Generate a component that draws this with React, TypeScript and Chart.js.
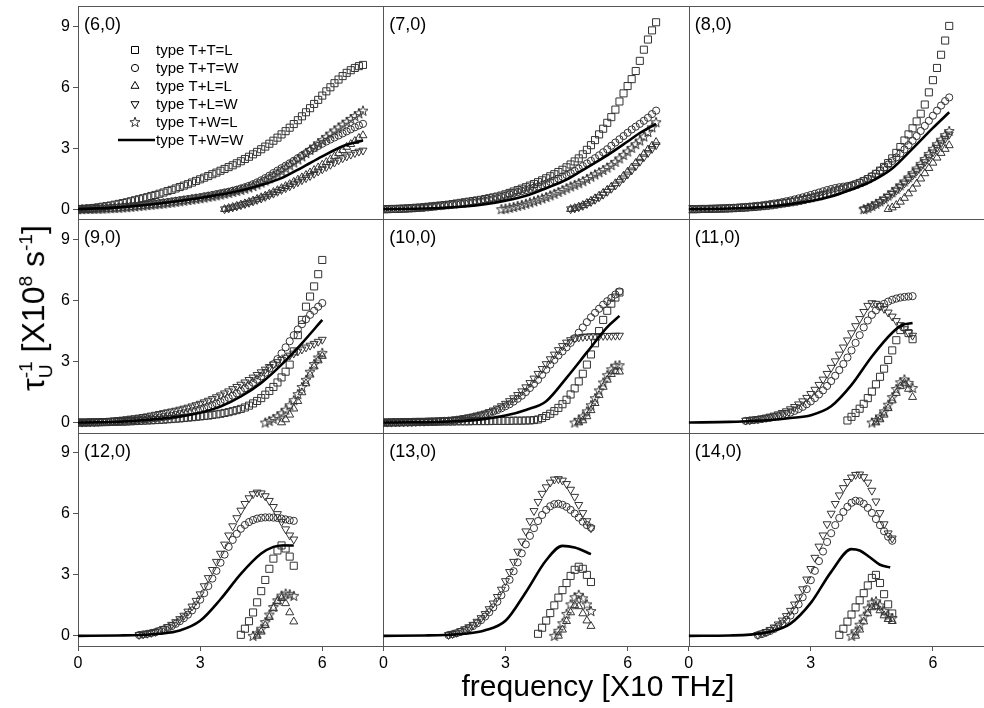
import React, { useEffect, useRef } from 'react';
import { Chart, registerables } from 'chart.js';
Chart.register(...registerables);

const FONT = '"Liberation Sans", Arial, Helvetica, sans-serif';

// frequency grid [X10 THz]
const FREQ = [0,0.1,0.2,0.3,0.4,0.5,0.6,0.7,0.8,0.9,1,1.1,1.2,1.3,1.4,1.5,1.6,1.7,1.8,1.9,2,2.1,2.2,2.3,2.4,2.5,2.6,2.7,2.8,2.9,3,3.1,3.2,3.3,3.4,3.5,3.6,3.7,3.8,3.9,4,4.1,4.2,4.3,4.4,4.5,4.6,4.7,4.8,4.9,5,5.1,5.2,5.3,5.4,5.5,5.6,5.7,5.8,5.9,6,6.1,6.2,6.3,6.4,6.5,6.6,6.7,6.8,6.9,7];
const X_TICKS = [0, 3, 6];
const Y_TICKS = [0, 3, 6, 9];
const SERIES_NAMES = ['type T+T=L', 'type T+T=W', 'type T+L=L', 'type T+L=W', 'type T+W=L', 'type T+W=W'];
const PANEL_LABELS = ['(6,0)', '(7,0)', '(8,0)', '(9,0)', '(10,0)', '(11,0)', '(12,0)', '(13,0)', '(14,0)'];

// start frequency of each marker series, order: T+T=L, T+T=W, T+L=L, T+L=W, T+W=L
// ---- (6,0)
const P6_START = [0, 0, 3.6, 3.6, 0];
const P6_TTL = [0,0.01,0.02,0.04,0.06,0.09,0.12,0.15,0.18,0.22,0.26,0.3,0.34,0.39,0.44,0.49,0.54,0.59,0.65,0.7,0.76,0.82,0.89,0.95,1.02,1.09,1.16,1.23,1.31,1.39,1.47,1.55,1.63,1.72,1.8,1.89,1.98,2.07,2.16,2.26,2.36,2.47,2.58,2.7,2.82,2.95,3.08,3.22,3.37,3.52,3.68,3.84,4.01,4.19,4.38,4.57,4.77,4.97,5.18,5.38,5.59,5.8,6.0,6.2,6.38,6.55,6.71,6.84,6.95,7.04,7.1];
const P6_TTW = [0,0,0.01,0.01,0.02,0.03,0.04,0.05,0.06,0.08,0.09,0.11,0.13,0.15,0.17,0.19,0.21,0.23,0.25,0.27,0.3,0.32,0.35,0.38,0.41,0.44,0.47,0.5,0.53,0.56,0.59,0.63,0.66,0.7,0.74,0.78,0.82,0.86,0.91,0.96,1.02,1.08,1.15,1.23,1.32,1.42,1.53,1.65,1.78,1.9,2.02,2.14,2.26,2.38,2.51,2.64,2.76,2.88,3.0,3.11,3.22,3.33,3.43,3.53,3.63,3.73,3.83,3.93,4.03,4.12,4.2];
const P6_TLL = [0,0.05,0.1,0.16,0.22,0.28,0.35,0.42,0.5,0.58,0.66,0.75,0.84,0.93,1.03,1.13,1.23,1.34,1.45,1.56,1.68,1.8,1.92,2.05,2.18,2.31,2.45,2.6,2.75,2.9,3.06,3.2,3.35,3.5,3.63];
const P6_TLW = [0,0.04,0.09,0.14,0.2,0.26,0.32,0.39,0.46,0.53,0.61,0.69,0.77,0.86,0.95,1.04,1.13,1.23,1.33,1.43,1.53,1.64,1.75,1.86,1.97,2.08,2.19,2.3,2.41,2.51,2.6,2.69,2.77,2.84,2.89];
const P6_TWL = [0,0,0.01,0.01,0.02,0.02,0.03,0.04,0.05,0.06,0.07,0.09,0.1,0.12,0.14,0.16,0.18,0.2,0.22,0.24,0.26,0.28,0.31,0.33,0.36,0.39,0.42,0.45,0.48,0.51,0.54,0.57,0.61,0.64,0.68,0.72,0.76,0.8,0.85,0.9,0.95,1.01,1.07,1.14,1.22,1.31,1.41,1.52,1.64,1.76,1.89,2.02,2.16,2.3,2.45,2.6,2.76,2.92,3.08,3.24,3.4,3.56,3.72,3.87,4.02,4.16,4.3,4.44,4.58,4.72,4.85];
const P6_LINE = [[0,0],[1,0.09],[2,0.28],[3,0.55],[3.5,0.72],[4,0.92],[4.5,1.19],[5,1.53],[5.5,2.05],[6,2.6],[6.5,3.1],[7,3.38]];
// ---- (7,0)
const P7_START = [0, 0, 4.6, 4.6, 2.9];
const P7_TTL = [0,0,0.01,0.01,0.02,0.03,0.04,0.05,0.07,0.08,0.1,0.12,0.14,0.16,0.18,0.2,0.22,0.25,0.28,0.31,0.34,0.37,0.4,0.43,0.46,0.5,0.54,0.58,0.62,0.67,0.73,0.8,0.87,0.94,1.01,1.08,1.16,1.24,1.33,1.42,1.52,1.62,1.72,1.83,1.94,2.06,2.2,2.35,2.5,2.7,2.92,3.15,3.4,3.68,3.96,4.25,4.53,4.9,5.3,5.7,6.06,6.4,6.8,7.3,7.85,8.35,8.8,9.2];
const P7_TTW = [0,0,0.01,0.01,0.02,0.02,0.03,0.04,0.05,0.06,0.07,0.09,0.11,0.13,0.15,0.17,0.19,0.21,0.23,0.26,0.28,0.3,0.33,0.35,0.38,0.41,0.45,0.49,0.54,0.6,0.66,0.73,0.79,0.84,0.89,0.94,1.0,1.06,1.12,1.19,1.26,1.34,1.42,1.5,1.59,1.68,1.78,1.88,2.0,2.12,2.25,2.38,2.51,2.65,2.8,2.95,3.12,3.28,3.44,3.6,3.76,3.92,4.06,4.2,4.35,4.5,4.68,4.85];
const P7_TLL = [0,0.05,0.12,0.2,0.3,0.41,0.53,0.66,0.8,0.95,1.1,1.27,1.45,1.64,1.84,2.05,2.27,2.5,2.72,2.93,3.12,3.3];
const P7_TLW = [0,0.04,0.1,0.17,0.26,0.36,0.47,0.59,0.72,0.86,1.01,1.17,1.34,1.52,1.71,1.91,2.12,2.34,2.56,2.77,2.97,3.15];
const P7_TWL = [0,0.03,0.07,0.11,0.16,0.21,0.27,0.33,0.39,0.46,0.53,0.6,0.68,0.76,0.85,0.94,1.03,1.12,1.2,1.28,1.38,1.49,1.6,1.71,1.82,1.93,2.05,2.17,2.33,2.5,2.67,2.84,3.02,3.2,3.38,3.58,3.8,4.03,4.28];
const P7_LINE = [[0,0],[1,0.03],[1.5,0.07],[2,0.13],[2.5,0.24],[3,0.42],[3.5,0.66],[4,1.03],[4.5,1.45],[5,2.05],[5.5,2.65],[6,3.33],[6.3,3.75],[6.7,4.2]];
// ---- (8,0)
const P8_START = [0, 0, 4.9, 4.3, 4.3];
const P8_TTL = [0,0,0,0.01,0.01,0.01,0.02,0.02,0.03,0.03,0.04,0.05,0.06,0.07,0.08,0.1,0.11,0.13,0.15,0.17,0.19,0.22,0.25,0.28,0.31,0.34,0.37,0.41,0.45,0.5,0.54,0.59,0.64,0.7,0.76,0.82,0.88,0.95,1.01,1.07,1.14,1.21,1.29,1.38,1.48,1.6,1.74,1.9,2.08,2.27,2.5,2.77,3.06,3.38,3.68,3.98,4.32,4.7,5.15,5.75,6.35,6.95,7.6,8.3,9.02];
const P8_TTW = [0,0,0,0.01,0.01,0.02,0.02,0.03,0.04,0.05,0.06,0.07,0.08,0.1,0.11,0.13,0.15,0.17,0.19,0.22,0.25,0.28,0.31,0.35,0.39,0.43,0.48,0.53,0.58,0.64,0.7,0.76,0.82,0.88,0.94,0.99,1.04,1.08,1.11,1.14,1.18,1.24,1.31,1.4,1.5,1.62,1.75,1.89,2.04,2.2,2.37,2.55,2.74,2.94,3.15,3.37,3.6,3.85,4.1,4.35,4.6,4.85,5.1,5.32,5.5];
const P8_TLL = [0,0.08,0.2,0.36,0.55,0.77,1.0,1.25,1.5,1.76,2.02,2.28,2.53,2.76,2.96,3.14];
const P8_TLW = [0,0.06,0.14,0.24,0.35,0.47,0.61,0.76,0.92,1.09,1.27,1.46,1.66,1.87,2.09,2.32,2.56,2.8,3.03,3.25,3.47,3.68];
const P8_TWL = [0,0.07,0.16,0.27,0.39,0.52,0.67,0.83,1.0,1.18,1.37,1.57,1.78,2.0,2.23,2.47,2.72,2.97,3.2,3.42,3.65,3.85];
const P8_LINE = [[0,0],[0.5,0.01],[1,0.03],[1.5,0.07],[2,0.13],[2.5,0.25],[3,0.4],[3.5,0.62],[4,0.97],[4.5,1.38],[5,2.0],[5.5,2.98],[6,4.0],[6.4,4.77]];
// ---- (9,0)
const P9_START = [0, 0, 5.0, 0, 4.6];
const P9_TTL = [0,0,0,0.01,0.01,0.01,0.02,0.02,0.03,0.03,0.04,0.04,0.05,0.06,0.07,0.08,0.09,0.1,0.11,0.12,0.13,0.14,0.16,0.17,0.19,0.2,0.22,0.24,0.26,0.28,0.3,0.32,0.34,0.37,0.4,0.43,0.47,0.51,0.56,0.61,0.67,0.74,0.83,0.94,1.06,1.2,1.37,1.55,1.75,1.97,2.22,2.5,2.85,3.5,4.3,5.05,5.7,6.2,6.7,7.3,8.0];
const P9_TTW = [0,0,0,0.01,0.01,0.02,0.02,0.03,0.04,0.05,0.06,0.07,0.08,0.1,0.11,0.13,0.15,0.17,0.19,0.21,0.24,0.27,0.3,0.33,0.37,0.41,0.45,0.5,0.55,0.6,0.66,0.72,0.79,0.86,0.94,1.02,1.11,1.21,1.32,1.44,1.56,1.69,1.82,1.96,2.11,2.27,2.45,2.65,2.87,3.12,3.4,3.7,4.0,4.3,4.58,4.84,5.08,5.3,5.5,5.7,5.88];
const P9_TLL = [0,0.15,0.38,0.68,1.05,1.48,1.92,2.35,2.75,3.05,3.27];
const P9_TLW = [0,0,0.01,0.01,0.02,0.03,0.05,0.07,0.09,0.11,0.13,0.15,0.17,0.2,0.22,0.25,0.28,0.31,0.35,0.39,0.43,0.47,0.51,0.55,0.59,0.64,0.69,0.74,0.8,0.86,0.93,1.0,1.08,1.16,1.25,1.34,1.44,1.54,1.65,1.76,1.87,1.98,2.1,2.22,2.35,2.48,2.61,2.74,2.86,2.98,3.09,3.2,3.3,3.4,3.5,3.6,3.7,3.79,3.88,3.98,4.08];
const P9_TWL = [0,0.08,0.18,0.3,0.45,0.63,0.85,1.1,1.4,1.75,2.1,2.5,2.88,3.2,3.43];
const P9_LINE = [[0,0],[0.5,0.01],[1,0.04],[1.5,0.1],[2,0.18],[2.5,0.3],[3,0.48],[3.5,0.78],[4,1.28],[4.5,1.95],[5,2.85],[5.5,3.9],[6,5.05]];
// ---- (10,0)
const P10_START = [0, 0, 4.8, 0, 4.7];
const P10_TTL = [0,0,0.01,0.01,0.01,0.02,0.02,0.02,0.03,0.03,0.03,0.04,0.04,0.04,0.05,0.05,0.05,0.05,0.06,0.06,0.06,0.06,0.07,0.07,0.07,0.07,0.07,0.08,0.08,0.08,0.08,0.08,0.09,0.09,0.09,0.1,0.1,0.12,0.15,0.22,0.32,0.43,0.56,0.72,0.9,1.12,1.38,1.68,2.02,2.4,2.85,3.35,3.9,4.5,5.05,5.5,5.85,6.15,6.4];
const P10_TTW = [0,0,0,0,0.01,0.01,0.01,0.02,0.02,0.03,0.03,0.04,0.05,0.06,0.07,0.08,0.09,0.11,0.13,0.16,0.19,0.22,0.26,0.3,0.35,0.4,0.46,0.53,0.61,0.7,0.8,0.9,1.03,1.17,1.32,1.5,1.7,1.9,2.1,2.35,2.6,2.85,3.08,3.3,3.5,3.7,3.92,4.15,4.42,4.68,4.94,5.18,5.4,5.6,5.8,5.97,6.13,6.3,6.45];
const P10_TLL = [0,0.1,0.3,0.6,0.95,1.35,1.75,2.1,2.38,2.52,2.5];
const P10_TLW = [0,0,0,0.01,0.01,0.01,0.02,0.02,0.03,0.04,0.04,0.05,0.06,0.07,0.09,0.1,0.12,0.14,0.16,0.19,0.22,0.26,0.3,0.35,0.4,0.45,0.52,0.6,0.7,0.81,0.93,1.06,1.2,1.36,1.54,1.74,1.95,2.17,2.4,2.64,2.88,3.12,3.35,3.57,3.77,3.94,4.06,4.14,4.19,4.22,4.24,4.25,4.26,4.26,4.27,4.27,4.27,4.28,4.28];
const P10_TWL = [0,0.12,0.3,0.55,0.85,1.2,1.58,1.97,2.33,2.62,2.8,2.82];
const P10_LINE = [[0,0],[0.7,0.01],[1.5,0.04],[2,0.09],[2.5,0.18],[3,0.34],[3.5,0.62],[4,1.05],[4.5,2.2],[5,3.45],[5.5,4.7],[5.8,5.25]];
// ---- (11,0)
const P11_START = [3.9, 1.4, 4.6, 1.4, 4.5];
const P11_TTL = [0.1,0.28,0.47,0.68,0.92,1.2,1.52,1.88,2.25,2.65,3.08,3.55,4.05,4.55,4.7,4.4,4.1];
const P11_TTW = [0.08,0.1,0.12,0.14,0.17,0.2,0.23,0.27,0.31,0.36,0.42,0.49,0.57,0.66,0.77,0.9,1.04,1.2,1.38,1.58,1.8,2.04,2.3,2.58,2.88,3.2,3.55,3.92,4.3,4.68,5.02,5.3,5.52,5.7,5.84,5.95,6.04,6.1,6.15,6.18,6.2,6.22];
const P11_TLL = [0,0.15,0.38,0.7,1.08,1.45,1.78,1.95,1.65,1.25];
const P11_TLW = [0.1,0.12,0.15,0.18,0.21,0.25,0.3,0.35,0.41,0.48,0.56,0.66,0.77,0.9,1.05,1.22,1.41,1.62,1.86,2.12,2.4,2.7,3.02,3.35,3.7,4.05,4.4,4.75,5.1,5.45,5.75,5.88,5.85,5.75,5.6,5.42,5.22,5.0,4.8,4.6,4.42,4.28];
const P11_TWL = [0,0.12,0.3,0.55,0.88,1.25,1.65,1.98,2.12,1.95,1.7];
const P11_LINE = [[0,0],[1,0.03],[1.5,0.07],[2,0.12],[2.5,0.22],[3,0.36],[3.5,0.8],[4,1.85],[4.5,3.25],[5,4.42],[5.25,4.8],[5.5,4.9]];
// ---- (12,0)
const P12_START = [4.0, 1.5, 4.4, 1.5, 4.3];
const P12_TTL = [0.05,0.35,0.72,1.15,1.65,2.2,2.75,3.3,3.8,4.2,4.45,4.3,3.9,3.45];
const P12_TTW = [0.04,0.07,0.1,0.14,0.18,0.24,0.31,0.39,0.48,0.59,0.72,0.87,1.04,1.25,1.5,1.78,2.1,2.45,2.82,3.2,3.6,4.0,4.38,4.72,5.02,5.27,5.46,5.6,5.7,5.77,5.81,5.83,5.83,5.82,5.8,5.77,5.73,5.69,5.66];
const P12_TLL = [0,0.2,0.52,0.92,1.35,1.7,1.85,1.6,1.15,0.7];
const P12_TLW = [0.05,0.08,0.11,0.15,0.2,0.27,0.35,0.44,0.55,0.68,0.83,1.0,1.2,1.45,1.73,2.05,2.45,2.85,3.25,3.65,4.05,4.5,4.95,5.4,5.8,6.17,6.5,6.78,6.98,7.06,7.02,6.88,6.65,6.35,6.0,5.62,5.25,4.95,4.75];
const P12_TWL = [0,0.12,0.35,0.68,1.05,1.42,1.75,1.98,2.08,2.05,1.97];
const P12_LINE = [[0,0],[1,0.02],[1.5,0.04],[2,0.1],[2.5,0.26],[3,0.74],[3.5,1.8],[4,3.05],[4.5,4.05],[4.8,4.38],[5,4.45],[5.3,4.45]];
// ---- (13,0)
const P13_START = [3.8, 1.6, 4.3, 1.6, 4.2];
const P13_TTL = [0.1,0.4,0.75,1.12,1.5,1.88,2.25,2.6,2.95,3.25,3.4,3.3,3.0,2.65];
const P13_TTW = [0.04,0.08,0.13,0.2,0.28,0.37,0.48,0.61,0.77,0.95,1.16,1.4,1.68,2.0,2.36,2.76,3.18,3.62,4.06,4.5,4.92,5.3,5.65,5.95,6.2,6.38,6.48,6.5,6.45,6.35,6.2,6.02,5.82,5.62,5.45,5.32];
const P13_TLL = [0,0.3,0.72,1.15,1.5,1.45,1.1,0.75,0.48];
const P13_TLW = [0.05,0.1,0.16,0.24,0.33,0.43,0.55,0.7,0.88,1.08,1.32,1.6,1.92,2.28,2.7,3.15,3.65,4.15,4.65,5.15,5.65,6.15,6.6,7.0,7.32,7.55,7.7,7.72,7.65,7.48,7.2,6.85,6.45,6.05,5.65,5.3];
const P13_TWL = [0,0.25,0.62,1.08,1.55,1.9,2.02,1.85,1.55,1.22];
const P13_LINE = [[0,0],[1,0.02],[1.5,0.04],[2,0.1],[2.5,0.27],[3,0.74],[3.5,2.15],[4,3.72],[4.4,4.43],[4.7,4.35],[5.1,4.02]];
// ---- (14,0)
const P14_START = [3.7, 1.7, 4.1, 1.7, 4.0];
const P14_TTL = [0.05,0.35,0.7,1.05,1.4,1.75,2.1,2.48,2.85,3.0,2.6,2.05,1.55,1.1];
const P14_TTW = [0.04,0.09,0.16,0.24,0.34,0.46,0.61,0.79,1.0,1.25,1.55,1.9,2.3,2.74,3.2,3.68,4.15,4.62,5.05,5.45,5.8,6.1,6.35,6.55,6.65,6.62,6.5,6.3,6.05,5.75,5.45,5.15,4.88,4.68];
const P14_TLL = [0,0.3,0.7,1.1,1.4,1.45,1.25,1.0,0.82,0.72];
const P14_TLW = [0.05,0.12,0.2,0.3,0.42,0.57,0.76,0.98,1.24,1.55,1.9,2.3,2.78,3.3,3.85,4.4,4.95,5.5,6.02,6.5,6.92,7.28,7.58,7.8,7.93,7.95,7.82,7.55,7.15,6.62,6.05,5.5,5.05,4.8];
const P14_TWL = [0,0.22,0.55,0.95,1.35,1.65,1.7,1.5,1.22,1.0,0.88];
const P14_LINE = [[0,0],[1,0.02],[1.5,0.06],[2,0.2],[2.5,0.6],[3,1.62],[3.5,3.15],[4,4.27],[4.2,4.2],[4.45,3.87],[4.7,3.5],[4.95,3.37]];

const PANELS = [
  { start: P6_START, series: [P6_TTL, P6_TTW, P6_TLL, P6_TLW, P6_TWL], line: P6_LINE },
  { start: P7_START, series: [P7_TTL, P7_TTW, P7_TLL, P7_TLW, P7_TWL], line: P7_LINE },
  { start: P8_START, series: [P8_TTL, P8_TTW, P8_TLL, P8_TLW, P8_TWL], line: P8_LINE },
  { start: P9_START, series: [P9_TTL, P9_TTW, P9_TLL, P9_TLW, P9_TWL], line: P9_LINE },
  { start: P10_START, series: [P10_TTL, P10_TTW, P10_TLL, P10_TLW, P10_TWL], line: P10_LINE },
  { start: P11_START, series: [P11_TTL, P11_TTW, P11_TLL, P11_TLW, P11_TWL], line: P11_LINE },
  { start: P12_START, series: [P12_TTL, P12_TTW, P12_TLL, P12_TLW, P12_TWL], line: P12_LINE },
  { start: P13_START, series: [P13_TTL, P13_TTW, P13_TLL, P13_TLW, P13_TWL], line: P13_LINE },
  { start: P14_START, series: [P14_TTL, P14_TTW, P14_TLL, P14_TLW, P14_TWL], line: P14_LINE },
];

const MARK = '#333';

function toPoints(start: number, ys: number[]) {
  const i0 = FREQ.findIndex((f) => Math.abs(f - start) < 1e-6);
  return ys.map((y, i) => ({ x: FREQ[i0 + i], y }));
}

function makeStar() {
  const c = document.createElement('canvas');
  c.width = 12; c.height = 12;
  const g = c.getContext('2d')!;
  g.strokeStyle = MARK; g.lineWidth = 1;
  g.beginPath();
  for (let i = 0; i < 10; i++) {
    const r = i % 2 === 0 ? 5.3 : 2.2;
    const a = -Math.PI / 2 + (i * Math.PI) / 5;
    const px = 6 + r * Math.cos(a), py = 6.4 + r * Math.sin(a);
    if (i === 0) g.moveTo(px, py); else g.lineTo(px, py);
  }
  g.closePath(); g.stroke();
  return c;
}

export default function App() {
  const ref = useRef<HTMLCanvasElement>(null);
  useEffect(() => {
    const canvas = ref.current!;
    const star = makeStar();
    const styles: any[] = [
      { pointStyle: 'rect', pointRadius: 5, pointRotation: 0 },
      { pointStyle: 'circle', pointRadius: 3.6, pointRotation: 0 },
      { pointStyle: 'triangle', pointRadius: 4.6, pointRotation: 0 },
      { pointStyle: 'triangle', pointRadius: 4.6, pointRotation: 180 },
      { pointStyle: star, pointRadius: 5, pointRotation: 0 },
    ];
    const datasets: any[] = [];
    PANELS.forEach((p, k) => {
      const xAxisID = 'x' + (k % 3), yAxisID = 'y' + Math.floor(k / 3);
      datasets.push({
        label: SERIES_NAMES[5], data: p.line.map(([x, y]) => ({ x, y })), showLine: true,
        borderColor: '#000', borderWidth: 2.6, pointRadius: 0, cubicInterpolationMode: 'monotone',
        xAxisID, yAxisID,
      });
    });
    PANELS.forEach((p, k) => {
      const xAxisID = 'x' + (k % 3), yAxisID = 'y' + Math.floor(k / 3);
      p.series.forEach((ys, s) => {
        datasets.push({
          label: SERIES_NAMES[s], data: toPoints(p.start[s], ys), showLine: false,
          borderColor: MARK, backgroundColor: 'rgba(0,0,0,0)', borderWidth: 1,
          pointBorderColor: MARK, pointBackgroundColor: 'rgba(0,0,0,0)', pointBorderWidth: 1,
          ...styles[s], xAxisID, yAxisID,
        });
      });
    });

    const tickFont = { family: FONT, size: 16 };
    const grid = { display: true, drawOnChartArea: false, drawTicks: true, tickLength: 5, color: '#555', lineWidth: 1 };
    const scales: any = {};
    for (let c = 0; c < 3; c++) {
      scales['x' + c] = {
        type: 'linear', axis: 'x', position: 'bottom', stack: 'cols', stackWeight: 1, min: 0, max: 7.5,
        afterBuildTicks: (s: any) => { s.ticks = X_TICKS.map((v) => ({ value: v })); },
        afterFit: (s: any) => { s.height = 30; s.paddingLeft = 0; s.paddingRight = 0; s.paddingTop = 0; s.paddingBottom = 0; },
        grid, border: { display: false },
        ticks: { color: '#000', font: tickFont, padding: 3, maxRotation: 0, autoSkip: false, callback: (v: any) => String(v) },
      };
    }
    for (let r = 0; r < 3; r++) {
      scales['y' + r] = {
        type: 'linear', axis: 'y', position: 'left', stack: 'rows', stackWeight: 1, weight: 3 - r, min: -0.5, max: 10,
        afterBuildTicks: (s: any) => { s.ticks = Y_TICKS.map((v) => ({ value: v })); },
        afterFit: (s: any) => { s.width = 30; s.paddingLeft = 0; s.paddingRight = 0; s.paddingTop = 0; s.paddingBottom = 0; },
        grid, border: { display: false },
        ticks: { color: '#000', font: tickFont, padding: 3, autoSkip: false, callback: (v: any) => String(v) },
      };
    }

    const framePlugin = {
      id: 'frame',
      beforeDatasetsDraw(chart: any) {
        const ctx = chart.ctx, ca = chart.chartArea;
        ctx.save();
        ctx.strokeStyle = '#555'; ctx.lineWidth = 1;
        ctx.beginPath();
        for (let c = 0; c < 3; c++) {
          const s = chart.scales['x' + c];
          [s.left, s.right].forEach((v: number) => { const x = Math.round(v) + 0.5; ctx.moveTo(x, ca.top); ctx.lineTo(x, ca.bottom); });
        }
        for (let r = 0; r < 3; r++) {
          const s = chart.scales['y' + r];
          [s.top, s.bottom].forEach((v: number) => { const y = Math.round(v) + 0.5; ctx.moveTo(ca.left, y); ctx.lineTo(ca.right, y); });
        }
        ctx.stroke();
        ctx.restore();
      },
      afterDatasetsDraw(chart: any) {
        const ctx = chart.ctx;
        ctx.save();
        ctx.fillStyle = '#000';
        ctx.font = '18px ' + FONT;
        ctx.textBaseline = 'alphabetic';
        ctx.textAlign = 'left';
        PANEL_LABELS.forEach((lab, k) => {
          const xs = chart.scales['x' + (k % 3)], ys = chart.scales['y' + Math.floor(k / 3)];
          ctx.fillText(lab, xs.left + 6, ys.top + 24);
        });
        // legend inside panel (6,0)
        const xs = chart.scales.x0, ys = chart.scales.y0;
        const mx = xs.left + 57, tx = xs.left + 78;
        ctx.font = '15px ' + FONT;
        ctx.textBaseline = 'middle';
        SERIES_NAMES.forEach((name, i) => {
          const y = ys.top + 44 + 18 * i;
          ctx.strokeStyle = '#000'; ctx.lineWidth = 1;
          ctx.beginPath();
          if (i === 0) ctx.rect(mx - 3.5, y - 3.5, 7, 7);
          else if (i === 1) ctx.arc(mx, y, 3.6, 0, Math.PI * 2);
          else if (i === 2) { ctx.moveTo(mx, y - 4.6); ctx.lineTo(mx + 4, y + 2.3); ctx.lineTo(mx - 4, y + 2.3); ctx.closePath(); }
          else if (i === 3) { ctx.moveTo(mx, y + 4.6); ctx.lineTo(mx + 4, y - 2.3); ctx.lineTo(mx - 4, y - 2.3); ctx.closePath(); }
          ctx.stroke();
          if (i === 4) ctx.drawImage(star, mx - 6, y - 6);
          if (i === 5) { ctx.lineWidth = 2.6; ctx.beginPath(); ctx.moveTo(xs.left + 40, y); ctx.lineTo(tx - 1, y); ctx.stroke(); }
          ctx.fillText(name, tx, y + 1);
        });
        ctx.restore();
      },
    };

    const chart = new Chart(canvas, {
      type: 'scatter',
      data: { datasets },
      options: {
        animation: false, responsive: false, devicePixelRatio: 1, events: [],
        layout: { padding: { left: 48, top: 3, right: 4, bottom: 32 } },
        plugins: { legend: { display: false }, tooltip: { enabled: false }, title: { display: false } },
        scales,
      },
      plugins: [framePlugin],
    } as any);
    return () => chart.destroy();
  }, []);

  return (
    <div style={{ position: 'fixed', left: 0, top: 0, width: 984, height: 708, overflow: 'hidden', background: '#fff' }}>
      <canvas ref={ref} width={1000} height={708} style={{ position: 'absolute', left: 0, top: 0, width: 1000, height: 708 }} />
      <div style={{ position: 'absolute', left: 35, top: 308, transform: 'translate(-50%, -50%) rotate(-90deg)', fontFamily: FONT, fontSize: 32, lineHeight: '36px', whiteSpace: 'nowrap', color: '#000' }}>
        τ<span style={{ display: 'inline-flex', flexDirection: 'column', fontSize: '0.6em', lineHeight: 1, verticalAlign: 'middle' }}><span>-1</span><span>U</span></span> [X10<sup style={{ fontSize: '0.6em', lineHeight: 0 }}>8</sup> s<sup style={{ fontSize: '0.6em', lineHeight: 0 }}>-1</sup>]
      </div>
      <div style={{ position: 'absolute', left: 598, top: 671, transform: 'translateX(-50%)', fontFamily: FONT, fontSize: 30, lineHeight: '30px', whiteSpace: 'nowrap', color: '#000' }}>
        frequency [X10 THz]
      </div>
    </div>
  );
}
